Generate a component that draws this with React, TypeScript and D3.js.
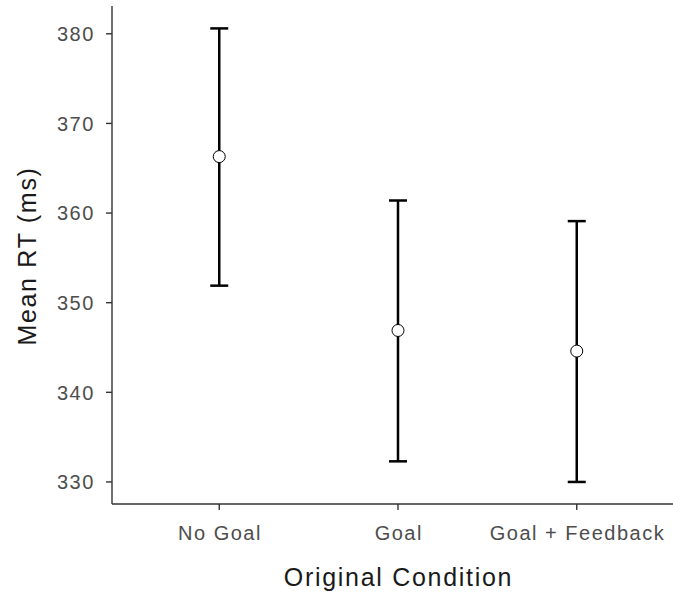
import * as d3 from "d3";

const conditions = ["No Goal", "Goal", "Goal + Feedback"];
const means = [366.3, 346.9, 344.6];
const lower = [351.9, 332.3, 330.0];
const upper = [380.6, 361.4, 359.1];
const yTicks = [330, 340, 350, 360, 370, 380];

export default function App() {
  const width = 673;
  const height = 594;
  const margin = { top: 6, right: -11, bottom: 90, left: 112 };
  const innerW = width - margin.left - margin.right;
  const innerH = height - margin.top - margin.bottom;

  const x = d3
    .scalePoint<string>()
    .domain(conditions)
    .range([0, innerW])
    .padding(0.6);

  const y = d3.scaleLinear().domain([327.54, 383.1]).range([innerH, 0]);

  const font = "'Liberation Sans', Arial, Helvetica, sans-serif";
  const axisColor = "#333333";

  return (
    <svg
      width={width}
      height={height}
      style={{ position: "absolute", left: 0, top: 0, background: "#fff" }}
      fontFamily={font}
    >
      <g transform={`translate(${margin.left},${margin.top})`}>
        {/* Axes */}
        <line x1={0} x2={0} y1={0} y2={innerH} stroke={axisColor} strokeWidth={1.4} />
        <line x1={0} x2={innerW} y1={innerH} y2={innerH} stroke={axisColor} strokeWidth={1.4} />

        {yTicks.map((t) => (
          <g key={t} transform={`translate(0,${y(t)})`}>
            <line x1={-6} x2={0} stroke={axisColor} strokeWidth={1.4} />
            <text
              x={-17.2}
              dy="0.36em"
              textAnchor="end"
              fontSize={20}
              letterSpacing={1.5}
              fill="#4d4d4d"
            >
              {t}
            </text>
          </g>
        ))}

        {conditions.map((c) => (
          <g key={c} transform={`translate(${x(c)},${innerH})`}>
            <line y1={0} y2={6} stroke={axisColor} strokeWidth={1.4} />
            <text
              x={0.75}
              y={29}
              dy="0.36em"
              textAnchor="middle"
              fontSize={20}
              letterSpacing={1.5}
              fill="#4d4d4d"
            >
              {c}
            </text>
          </g>
        ))}

        {/* Error bars */}
        {conditions.map((c, i) => {
          const cx = x(c) ?? 0;
          return (
            <g key={c} stroke="#000" strokeWidth={2.5}>
              <line x1={cx} x2={cx} y1={y(upper[i])} y2={y(lower[i])} />
              <line x1={cx - 9} x2={cx + 9} y1={y(upper[i])} y2={y(upper[i])} />
              <line x1={cx - 9} x2={cx + 9} y1={y(lower[i])} y2={y(lower[i])} />
            </g>
          );
        })}

        {/* Means */}
        {conditions.map((c, i) => (
          <circle
            key={c}
            cx={x(c)}
            cy={y(means[i])}
            r={6}
            fill="#fff"
            stroke="#000"
            strokeWidth={1}
          />
        ))}
      </g>

      <text
        x={398.5}
        y={577}
        textAnchor="middle"
        fontSize={25}
        letterSpacing={1.7}
        fill="#1a1a1a"
        dy="0.36em"
      >
        Original Condition
      </text>
      <text
        transform="translate(27,256) rotate(-90)"
        textAnchor="middle"
        fontSize={25}
        letterSpacing={1.7}
        fill="#1a1a1a"
        dy="0.36em"
      >
        Mean RT (ms)
      </text>
    </svg>
  );
}
